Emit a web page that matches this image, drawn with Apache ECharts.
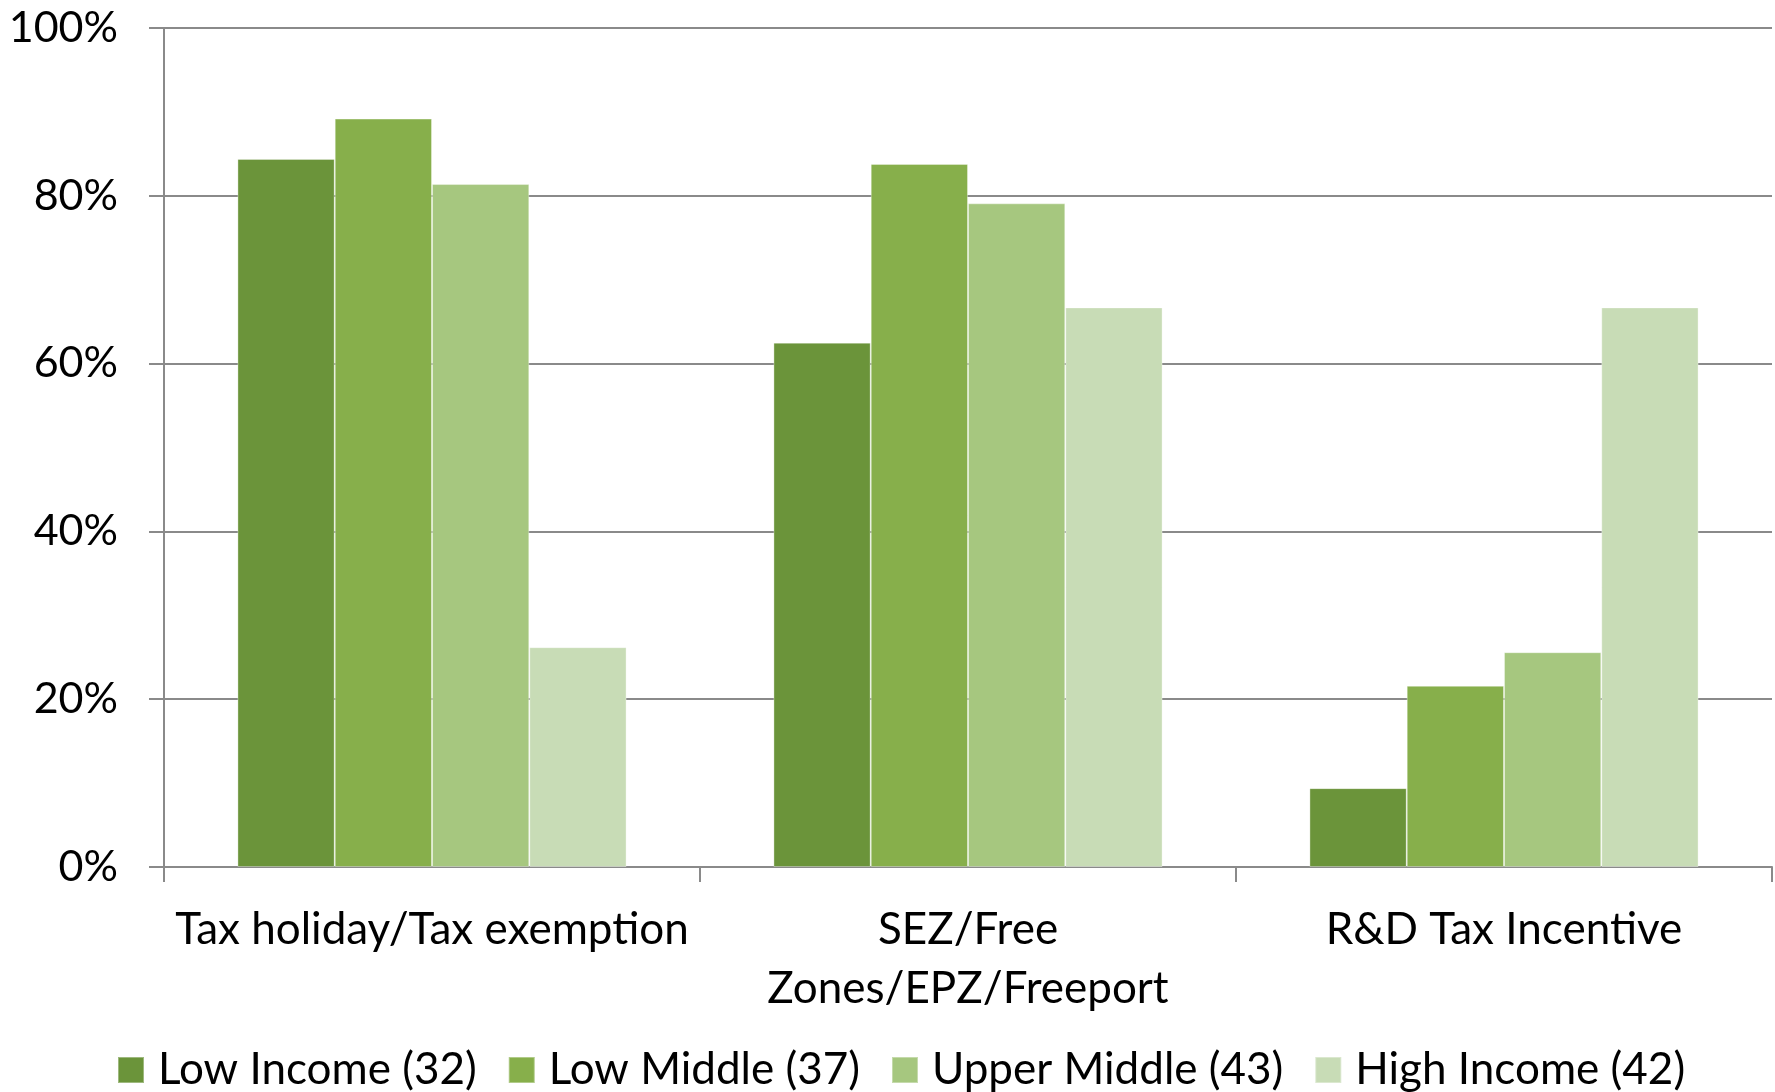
<!DOCTYPE html>
<html>
<head>
<meta charset="utf-8">
<script src="https://cdn.jsdelivr.net/npm/echarts@6/dist/echarts.min.js"></script>
<style>
  html, body { margin: 0; padding: 0; background: #fff; }
  #chart { width: 1775px; height: 1092px; }
</style>
</head>
<body>
<div id="chart"></div>
<script>
// Share of countries using each incentive type, by income group (percent)
const categories = ['Tax holiday/Tax exemption', 'SEZ/Free\nZones/EPZ/Freeport', 'R&D Tax Incentive'];
const seriesNames = ['Low Income (32)', 'Low Middle (37)', 'Upper Middle (43)', 'High Income (42)'];
const lowIncome = [84.4, 62.5, 9.4];
const lowMiddle = [89.2, 83.8, 21.6];
const upperMiddle = [81.4, 79.1, 25.6];
const highIncome = [26.2, 66.7, 66.7];
const yTicks = [0, 20, 40, 60, 80, 100];

const colors = ['#6b943a', '#87af4b', '#a6c77f', '#c8dcb6'];
const values = [lowIncome, lowMiddle, upperMiddle, highIncome];
const font = 'Lato, "Open Sans", sans-serif';
const axisGray = '#8a8a8a';

const chart = echarts.init(document.getElementById('chart'), null, { renderer: 'canvas' });

chart.setOption({
  animation: false,
  backgroundColor: '#ffffff',
  color: colors,
  grid: { left: 164, right: 3, top: 28, bottom: 225, containLabel: false },
  legend: {
    data: seriesNames,
    left: 112,
    top: 1041,
    icon: 'rect',
    itemWidth: 26,
    itemHeight: 26,
    itemGap: 31,
    textStyle: { fontFamily: font, fontSize: 44, color: '#000', lineHeight: 48, padding: [0, 0, 0, 9] }
  },
  xAxis: {
    type: 'category',
    data: categories,
    axisLine: { lineStyle: { color: axisGray, width: 2 } },
    axisTick: { show: true, length: 15, lineStyle: { color: axisGray, width: 2 } },
    axisLabel: {
      fontFamily: font, fontSize: 44, color: '#000',
      lineHeight: 59, margin: 33, interval: 0
    },
    splitLine: { show: false }
  },
  yAxis: {
    type: 'value',
    min: yTicks[0],
    max: yTicks[yTicks.length - 1],
    interval: 20,
    axisLine: { show: true, lineStyle: { color: axisGray, width: 2 } },
    axisTick: { show: true, length: 15, lineStyle: { color: axisGray, width: 2 } },
    axisLabel: {
      fontFamily: font, fontSize: 43, color: '#000', margin: 46,
      formatter: v => v + '%'
    },
    splitLine: { show: true, lineStyle: { color: axisGray, width: 2 } }
  },
  series: seriesNames.map((name, i) => ({
    name,
    type: 'bar',
    data: values[i],
    barGap: '0%',
    barCategoryGap: '27.4%',
    itemStyle: { color: colors[i], borderColor: 'rgba(255,255,255,0.35)', borderWidth: 1 }
  }))
});
</script>
</body>
</html>
